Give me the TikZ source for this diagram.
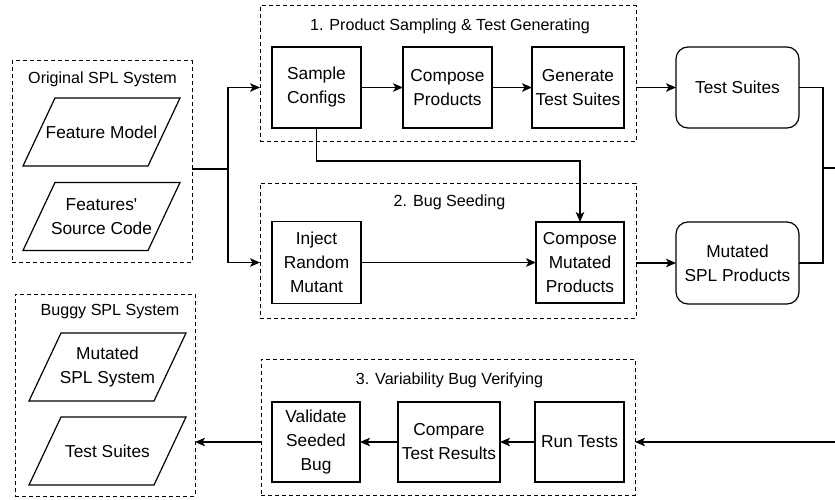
\documentclass[tikz,border=0pt]{standalone}
\usepackage{fontspec}
\setmainfont{Liberation Sans}
\usetikzlibrary{arrows.meta,calc}
\begin{document}
\begin{tikzpicture}[x=1pt,y=-1pt,
  every node/.style={inner sep=0pt,outer sep=0pt},
  line/.style={line width=1.2pt,draw=black},
  arr/.style={line width=1.2pt,-{Stealth[length=10pt,width=8.5pt,inset=2.5pt]}},
  group/.style={draw,line width=1pt,dash pattern=on 4pt off 3pt},
  proc/.style={draw,line width=1.2pt,align=center,font=\fontsize{17.3}{24}\selectfont},
  rproc/.style={proc,rounded corners=12pt},
  data/.style={align=center,minimum width=157pt,minimum height=68pt,font=\fontsize{17.3}{24}\selectfont},
  datashape/.style={draw,line width=1.2pt},
  gtitle/.style={font=\fontsize{16.1}{20}\selectfont}
]
\useasboundingbox (0,0) rectangle (835,500);

% group boxes
\node[group,minimum width=180pt,minimum height=201pt,anchor=north west] (origb) at (12,61) {};
\node[group,minimum width=376pt,minimum height=136pt,anchor=north west] (b1) at (260,6) {};
\node[group,minimum width=376pt,minimum height=135pt,anchor=north west] (b2) at (260,183) {};
\node[group,minimum width=374pt,minimum height=136pt,anchor=north west] (b3) at (261,359) {};
\node[group,minimum width=180pt,minimum height=202pt,anchor=north west] (bug) at (15,294) {};

% titles
\node[gtitle] (t0) at (102.5,79) {Original SPL System};
\node[gtitle] (t1) at (450,26) {1. Product Sampling \& Test Generating};
\node[gtitle] (t2) at (449.5,202) {2. Bug Seeding};
\node[gtitle] (t3) at (449.5,380) {3. Variability Bug Verifying};
\node[gtitle] (t4) at (110,312) {Buggy SPL System};

% data shapes (parallelograms)
\node[data] (fm) at (101.5,132) {Feature Model};
\node[data] (fsc) at (101.5,216.5) {Features\textquotesingle\\Source Code};
\node[data] (msys) at (107.5,367) {Mutated\\SPL System};
\node[data] (bts) at (107.5,451) {Test Suites};
\foreach \n in {fm,fsc,msys,bts}{
  \draw[datashape] (\n.south west) -- ($(\n.south east)+(-32,0)$) -- (\n.north east) -- ($(\n.north west)+(32,0)$) -- cycle;
}

% process nodes
\node[proc,minimum width=89pt,minimum height=81pt] (sc) at (316.5,87.5) {Sample\\Configs};
\node[proc,minimum width=89pt,minimum height=81pt] (cp) at (447.5,87.5) {Compose\\Products};
\node[proc,minimum width=92pt,minimum height=81pt] (gts) at (578,87.5) {Generate\\Test Suites};
\node[rproc,minimum width=123pt,minimum height=81pt] (ts) at (737.5,87.5) {Test Suites};
\node[proc,minimum width=89pt,minimum height=82pt] (inj) at (316.5,262.5) {Inject\\Random\\Mutant};
\node[proc,minimum width=88pt,minimum height=81pt] (cmp) at (580,262.5) {Compose\\Mutated\\Products};
\node[rproc,minimum width=123pt,minimum height=82pt] (msp) at (737.5,263) {Mutated\\SPL Products};
\node[proc,minimum width=88pt,minimum height=80pt] (vsb) at (316,442) {Validate\\Seeded\\Bug};
\node[proc,minimum width=102pt,minimum height=80pt] (ctr) at (449,442) {Compare\\Test Results};
\node[proc,minimum width=89pt,minimum height=80pt] (rt) at (579.5,442) {Run Tests};

% connectors
\coordinate (j1) at (228,169);
\draw[line] (j1 -| origb.east) -- (j1);
\draw[arr] (j1) |- (b1.west |- sc);
\draw[arr] (j1) |- (b2.west |- inj);
\draw[arr] (sc) -- (cp);
\draw[arr] (cp) -- (gts);
\draw[arr] (b1.east |- ts) -- (ts.west);
\coordinate (k1) at (580,161);
\draw[arr] (sc.south) |- (k1) -- (cmp.north);
\draw[arr] (inj) -- (cmp);
\draw[arr] (b2.east |- msp) -- (msp.west);
\coordinate (rc) at (823,168);
\coordinate (out1) at (837,168);
\coordinate (out2) at (837,442);
\draw[line] (ts.east) -| (rc) |- (msp.east);
\draw[line] (rc) -- (out1);
\draw[arr] (out2) -- (b3.east |- rt);
\draw[arr] (rt) -- (ctr);
\draw[arr] (ctr) -- (vsb);
\draw[arr] (b3.west |- vsb) -- (bug.east |- vsb);
\end{tikzpicture}
\end{document}
